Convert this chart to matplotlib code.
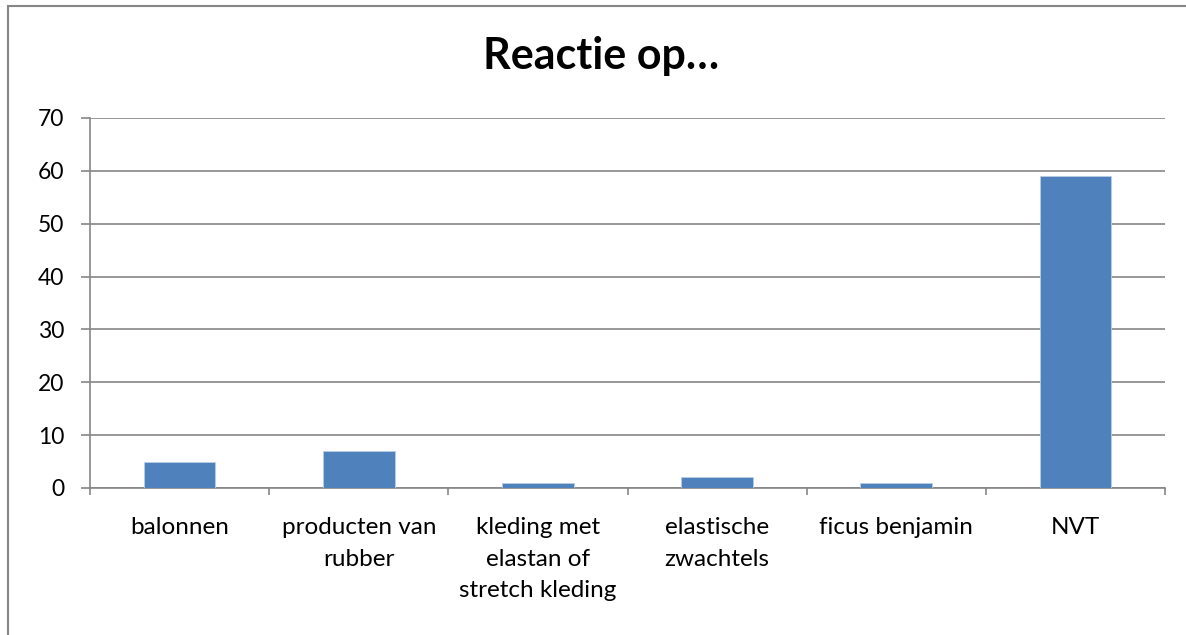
import matplotlib
matplotlib.use("Agg")
import matplotlib.pyplot as plt
from matplotlib.patches import Rectangle
import numpy as np

categories = ["balonnen", "producten van\nrubber", "kleding met\nelastan of\nstretch kleding",
              "elastische\nzwachtels", "ficus benjamin", "NVT"]
values = [5, 7, 1, 2, 1, 59]
yticks = [0, 10, 20, 30, 40, 50, 60, 70]
title = "Reactie op…"

plt.rcParams['font.family'] = ['Lato', 'DejaVu Sans']

W, H = 1186, 635
fig = plt.figure(figsize=(W/100, H/100), dpi=100)
fig.patch.set_facecolor("white")

# outer chart border (only top and left visible)
fig.patches.append(Rectangle((8/W, -0.1), 1.2, 1 - 6/H + 0.1, transform=fig.transFigure,
                             fill=False, edgecolor="#868686", linewidth=1.5))

ax = fig.add_axes([90/W, 1 - 488/H, (1165-90)/W, (488-118)/H])
x = np.arange(len(categories))
ax.bar(x, values, width=0.4, color="#4F81BD", edgecolor="#B9CDE5", linewidth=0.6, zorder=3)

ax.set_xlim(-0.5, len(categories) - 0.5)
ax.set_ylim(0, 70)
ax.set_yticks(yticks)
ax.set_yticklabels([str(t) for t in yticks], fontsize=16.5)
ax.yaxis.grid(True, color="#868686", linewidth=1.2, zorder=0)
ax.set_axisbelow(True)

ax.set_xticks(x)
ax.set_xticklabels(categories, fontsize=17.5, linespacing=1.62, va="top")
ax.tick_params(axis="x", which="major", length=0, pad=21)
ax.set_xticks(np.arange(-0.5, len(categories)), minor=True)
ax.tick_params(axis="x", which="minor", length=5, width=1.2, color="#868686", direction="out")
ax.tick_params(axis="y", length=6.5, width=1.2, color="#868686", direction="out", pad=12)

for s in ["top", "right"]:
    ax.spines[s].set_visible(False)
for s in ["left", "bottom"]:
    ax.spines[s].set_color("#868686")
    ax.spines[s].set_linewidth(1.2)

fig.text(601/W, 1 - 69/H, title, ha="center", va="baseline", fontsize=31, fontweight="bold")

fig.savefig("out.png", dpi=100, facecolor="white")
